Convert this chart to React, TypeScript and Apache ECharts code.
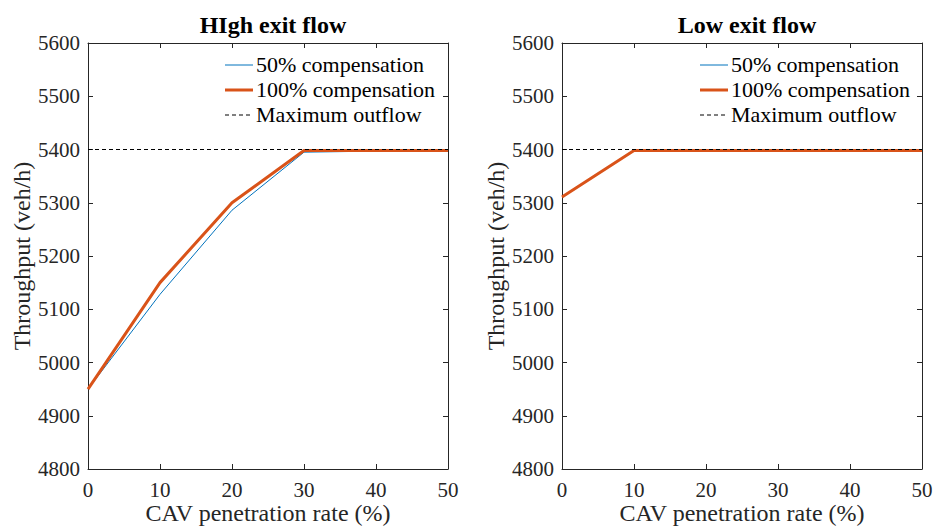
import React, { useEffect, useRef } from "react";
import * as echarts from "echarts";

const xCats = [0, 10, 20, 30, 40, 50];
const highComp50 = [4950, 5128, 5286, 5395, 5397, 5397];
const highComp100 = [4950, 5150, 5300, 5398, 5398, 5398];
const lowComp50 = [5311, 5398, 5398, 5398, 5398, 5398];
const lowComp100 = [5311, 5398, 5398, 5398, 5398, 5398];
const maxOutflow = [5400, 5400, 5400, 5400, 5400, 5400];
const titles = ["HIgh exit flow", "Low exit flow"];
const seriesNames = ["50% compensation", "100% compensation", "Maximum outflow"];

const FONT = "Liberation Serif";
const BLUE = "#0072BD";
const ORANGE = "#D95319";
const AX = "#262626";

export default function App() {
  const ref = useRef<HTMLDivElement>(null);
  useEffect(() => {
    if (!ref.current) return;
    const chart = echarts.init(ref.current, undefined, { renderer: "svg" });
    const grids = [
      { left: 88, right: 488, top: 43, bottom: 59, containLabel: false, outerBoundsMode: "none" },
      { left: 562, right: 14, top: 43, bottom: 59, containLabel: false, outerBoundsMode: "none" },
    ];
    const xAxis: any[] = [];
    const yAxis: any[] = [];
    const series: any[] = [];
    const dataSets = [
      [highComp50, highComp100],
      [lowComp50, lowComp100],
    ];
    const tick = { show: true, inside: true, length: 5, lineStyle: { color: AX } };
    const line = { show: true, onZero: false, lineStyle: { color: AX, width: 1 } };
    grids.forEach((g, i) => {
      xAxis.push({
        type: "value",
        gridIndex: i,
        min: 0,
        max: 50,
        interval: 10,
        position: "bottom",
        name: "CAV penetration rate (%)",
        nameLocation: "middle",
        nameGap: 32,
        nameMoveOverlap: false,
        nameTextStyle: { fontFamily: FONT, fontSize: 24, color: AX, lineHeight: 24 },
        axisLine: line,
        axisTick: tick,
        axisLabel: { fontFamily: FONT, fontSize: 21, color: AX, margin: 10 },
        splitLine: { show: false },
      });
      xAxis.push({
        type: "value",
        gridIndex: i,
        min: 0,
        max: 50,
        interval: 10,
        position: "top",
        axisLine: line,
        axisTick: tick,
        axisLabel: { show: false },
        splitLine: { show: false },
      });
      yAxis.push({
        type: "value",
        gridIndex: i,
        min: 4800,
        max: 5600,
        interval: 100,
        position: "left",
        name: "Throughput (veh/h)",
        nameLocation: "middle",
        nameGap: 54,
        nameMoveOverlap: false,
        nameTextStyle: { fontFamily: FONT, fontSize: 24, color: AX },
        axisLine: line,
        axisTick: tick,
        axisLabel: {
          fontFamily: FONT,
          fontSize: 21,
          color: AX,
          margin: 8,
          formatter: (v: number) => String(v),
        },
        splitLine: { show: false },
      });
      yAxis.push({
        type: "value",
        gridIndex: i,
        min: 4800,
        max: 5600,
        interval: 100,
        position: "right",
        axisLine: line,
        axisTick: tick,
        axisLabel: { show: false },
        splitLine: { show: false },
      });
      const [d50, d100] = dataSets[i];
      series.push({
        name: seriesNames[0],
        type: "line",
        xAxisIndex: i * 2,
        yAxisIndex: i * 2,
        data: xCats.map((x, k) => [x, d50[k]]),
        symbol: "none",
        lineStyle: { color: BLUE, width: 1 },
        itemStyle: { color: BLUE },
        z: 3,
      });
      series.push({
        name: seriesNames[1],
        type: "line",
        xAxisIndex: i * 2,
        yAxisIndex: i * 2,
        data: xCats.map((x, k) => [x, d100[k]]),
        symbol: "none",
        lineStyle: { color: ORANGE, width: 3 },
        itemStyle: { color: ORANGE },
        z: 4,
      });
      series.push({
        name: seriesNames[2],
        type: "line",
        xAxisIndex: i * 2,
        yAxisIndex: i * 2,
        data: xCats.map((x, k) => [x, maxOutflow[k]]),
        symbol: "none",
        lineStyle: { color: "#000000", width: 1, type: [4, 3] },
        itemStyle: { color: "#000000" },
        z: 5,
      });
    });

    const legendStyles = [
      { stroke: BLUE, lineWidth: 1 },
      { stroke: ORANGE, lineWidth: 3 },
      { stroke: "#000", lineWidth: 1, lineDash: [4, 3] },
    ];
    const graphic: any[] = [];
    [225, 700].forEach((lx) => {
      seriesNames.forEach((name, k) => {
        const cy = 65 + k * 25;
        graphic.push({
          type: "line",
          shape: { x1: lx, y1: cy, x2: lx + 28, y2: cy },
          style: legendStyles[k],
          z: 10,
        });
        graphic.push({
          type: "text",
          x: lx + 31,
          y: cy - 1,
          style: {
            text: name,
            fontFamily: FONT,
            fontSize: 22,
            fill: "#000",
            verticalAlign: "middle",
            align: "left",
          },
          z: 10,
        });
      });
    });

    chart.setOption({
      animation: false,
      backgroundColor: "#ffffff",
      textStyle: { fontFamily: FONT },
      title: titles.map((t, i) => ({
        text: t,
        left: i === 0 ? 268 : 742,
        top: 8,
        textAlign: "center",
        textStyle: { fontFamily: FONT, fontSize: 24, fontWeight: "bold", color: "#000" },
      })),
      grid: grids,
      xAxis,
      yAxis,
      series,
      graphic,
    });
    return () => chart.dispose();
  }, []);
  return (
    <div
      ref={ref}
      style={{ position: "fixed", left: 0, top: 0, width: 936, height: 528 }}
    />
  );
}
